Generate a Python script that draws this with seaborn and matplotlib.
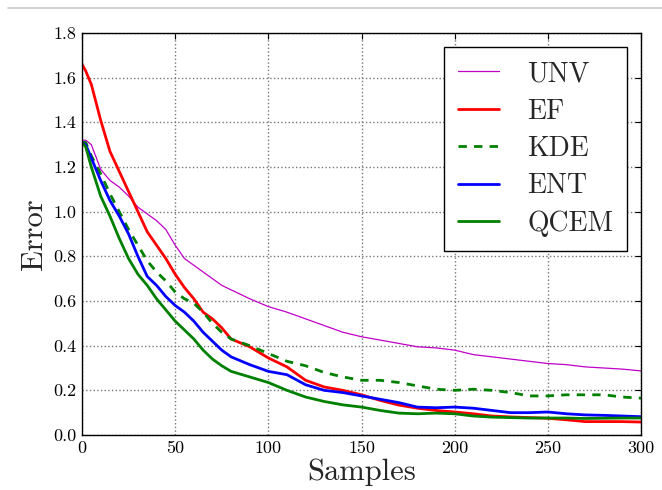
import numpy as np
import pandas as pd
import matplotlib
matplotlib.use("Agg")
import matplotlib.pyplot as plt
import seaborn as sns
from matplotlib.lines import Line2D

samples = [0, 2, 5, 10, 15, 20, 25, 30, 35, 40, 45, 50, 55, 60, 65, 70, 75, 80, 90, 100,
           110, 120, 130, 140, 150, 160, 170, 180, 190, 200, 210, 220, 230, 240, 250, 260,
           270, 280, 290, 300]

unv = [1.32, 1.32, 1.30, 1.19, 1.14, 1.11, 1.07, 1.02, 0.99, 0.96, 0.92, 0.85, 0.79, 0.76,
       0.73, 0.70, 0.67, 0.65, 0.61, 0.575, 0.55, 0.52, 0.49, 0.46, 0.44, 0.425, 0.41, 0.395,
       0.39, 0.38, 0.36, 0.35, 0.34, 0.33, 0.32, 0.315, 0.305, 0.30, 0.295, 0.287]
ef = [1.66, 1.63, 1.57, 1.41, 1.27, 1.18, 1.09, 1.00, 0.91, 0.85, 0.79, 0.72, 0.66, 0.61,
      0.55, 0.52, 0.48, 0.43, 0.395, 0.345, 0.305, 0.245, 0.215, 0.20, 0.18, 0.155, 0.134,
      0.12, 0.11, 0.103, 0.095, 0.085, 0.081, 0.078, 0.075, 0.068, 0.06, 0.06, 0.06, 0.058]
kde = [1.31, 1.31, 1.25, 1.17, 1.08, 1.00, 0.92, 0.85, 0.78, 0.73, 0.69, 0.64, 0.61, 0.59,
       0.55, 0.50, 0.46, 0.43, 0.40, 0.365, 0.33, 0.31, 0.28, 0.26, 0.245, 0.245, 0.235, 0.22,
       0.205, 0.20, 0.205, 0.20, 0.19, 0.175, 0.175, 0.18, 0.18, 0.18, 0.17, 0.165]
ent = [1.31, 1.30, 1.24, 1.14, 1.05, 0.98, 0.90, 0.80, 0.71, 0.67, 0.62, 0.58, 0.55, 0.51,
       0.46, 0.42, 0.38, 0.35, 0.315, 0.285, 0.27, 0.225, 0.20, 0.19, 0.175, 0.16, 0.145,
       0.125, 0.122, 0.125, 0.12, 0.11, 0.10, 0.10, 0.103, 0.095, 0.09, 0.088, 0.085, 0.082]
qcem = [1.31, 1.29, 1.20, 1.07, 0.98, 0.88, 0.79, 0.72, 0.67, 0.61, 0.56, 0.51, 0.47, 0.43,
        0.38, 0.34, 0.31, 0.285, 0.26, 0.235, 0.20, 0.17, 0.15, 0.135, 0.125, 0.11, 0.098,
        0.095, 0.098, 0.095, 0.085, 0.08, 0.078, 0.076, 0.076, 0.076, 0.074, 0.075, 0.076,
        0.076]

series_names = ["UNV", "EF", "KDE", "ENT", "QCEM"]
series_values = [unv, ef, kde, ent, qcem]
x_ticks = [0, 50, 100, 150, 200, 250, 300]
y_ticks = [0.0, 0.2, 0.4, 0.6, 0.8, 1.0, 1.2, 1.4, 1.6, 1.8]

sns.set_style("white")
plt.rcParams["font.family"] = ["cmr10", "DejaVu Serif"]
plt.rcParams["mathtext.fontset"] = "cm"
plt.rcParams["axes.formatter.use_mathtext"] = True
plt.rcParams["axes.unicode_minus"] = False

styles = {
    "UNV": dict(color="#c000c8", lw=0.9),
    "EF": dict(color="#ff0000", lw=2.0),
    "KDE": dict(color="#008000", lw=2.0),
    "ENT": dict(color="#0000ff", lw=2.0),
    "QCEM": dict(color="#008000", lw=2.0),
}

fig = plt.figure(figsize=(6.62, 4.90), dpi=100)
ax = fig.add_axes([82 / 662, 55 / 490, (641 - 82) / 662, (435 - 33) / 490])

for name, vals in zip(series_names, series_values):
    df = pd.DataFrame({"Samples": samples, "Error": vals})
    sns.lineplot(data=df, x="Samples", y="Error", ax=ax, label=name,
                 estimator=None, **styles[name])
    line = ax.lines[-1]
    if name == "KDE":
        line.set_dashes((3, 2.6))

ax.set_xlim(0, 300)
ax.set_ylim(0, 1.8)
ax.set_xticks(x_ticks)
ax.set_yticks(y_ticks)
ax.set_xticklabels([str(t) for t in x_ticks])
ax.set_yticklabels([f"{t:.1f}" for t in y_ticks])
ax.grid(True, linestyle=":", color="#777777", linewidth=1.0)
ax.tick_params(direction="in", length=4, width=0.8, top=True, right=True,
               labelsize=13, pad=4, colors="black")
for sp in ax.spines.values():
    sp.set_visible(True)
    sp.set_color("black")
    sp.set_linewidth(1.0)
ax.set_xlabel("Samples", fontsize=22, labelpad=2)
ax.set_ylabel("Error", fontsize=22, labelpad=4)

# legend handles built from the same styles
handles = []
for name in series_names:
    h = Line2D([], [], **styles[name])
    if name == "KDE":
        h.set_dashes((3, 2.6))
    handles.append(h)
leg = ax.legend(handles, series_names, loc="upper right", fontsize=20, frameon=True,
                fancybox=False, framealpha=1.0, edgecolor="black", borderpad=0.5,
                handlelength=1.5, handletextpad=1.0, labelspacing=0.4, borderaxespad=0.5)
leg.get_frame().set_linewidth(1.0)

fig.add_artist(Line2D([8 / 662, 1.0], [1 - 8 / 490, 1 - 8 / 490], color="#c8c8c8",
                      lw=1.2, transform=fig.transFigure))

fig.savefig("out.png", dpi=100)
